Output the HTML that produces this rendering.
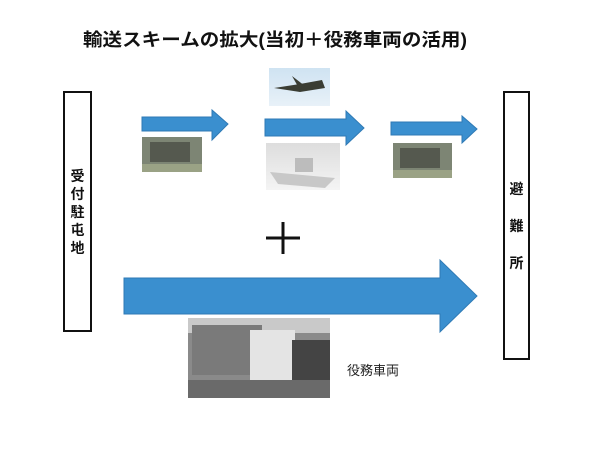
<!DOCTYPE html>
<html><head><meta charset="utf-8"><style>
body{margin:0;background:#fff;}
svg text{font-family:"Liberation Sans","Noto Sans CJK JP",sans-serif;}
</style></head><body>
<svg width="600" height="446" viewBox="0 0 600 446" xmlns="http://www.w3.org/2000/svg">
<defs>
<linearGradient id="sky" x1="0" y1="0" x2="0" y2="1"><stop offset="0" stop-color="#cfe3f2"/><stop offset="1" stop-color="#e8f1f8"/></linearGradient>
<linearGradient id="grey" x1="0" y1="0" x2="0" y2="1"><stop offset="0" stop-color="#ddd"/><stop offset="1" stop-color="#f4f4f4"/></linearGradient>
</defs>
<text x="83" y="46" font-size="18" font-weight="bold" fill="#111" textLength="384" lengthAdjust="spacingAndGlyphs">輸送スキームの拡大(当初＋役務車両の活用)</text>
<rect x="64" y="92" width="27" height="239" fill="#fff" stroke="#111" stroke-width="2"/>
<g font-size="14" font-weight="bold" fill="#111" text-anchor="middle">
<text x="77.5" y="181">受</text><text x="77.5" y="199">付</text><text x="77.5" y="217">駐</text><text x="77.5" y="235">屯</text><text x="77.5" y="253">地</text>
</g>
<rect x="504" y="92" width="25" height="267" fill="#fff" stroke="#111" stroke-width="2"/>
<g font-size="14" font-weight="bold" fill="#111" text-anchor="middle">
<text x="516.5" y="194">避</text><text x="516.5" y="231">難</text><text x="516.5" y="268">所</text>
</g>
<g fill="#3a8fcf" stroke="#2f7ab5" stroke-width="1">
<polygon points="142,117 212,117 212,110 228,124 212,140 212,131 142,131"/>
<polygon points="265,119 346,119 346,111 364,128 346,145 346,136 265,136"/>
<polygon points="391,122 462,122 462,116 477,129 462,143 462,135 391,135"/>
<polygon points="124,278 440,278 440,260 477,296 440,332 440,314 124,314"/>
</g>
<!-- truck 1 -->
<rect x="142" y="137" width="60" height="35" fill="#7d8574"/>
<rect x="150" y="142" width="40" height="20" fill="#55594f"/>
<rect x="142" y="164" width="60" height="8" fill="#9aa285"/>
<!-- plane -->
<rect x="269" y="68" width="61" height="38" fill="url(#sky)"/>
<path d="M274 88 L300 84 L322 80 L325 88 L300 92 Z" fill="#3a3d33"/>
<path d="M292 76 L305 86 L300 90 Z" fill="#3a3d33"/>
<!-- ship -->
<rect x="266" y="143" width="74" height="47" fill="url(#grey)"/>
<path d="M270 172 L335 178 L325 188 L278 184 Z" fill="#c8c8c8"/>
<rect x="295" y="158" width="18" height="14" fill="#bcbcbc"/>
<!-- truck 2 -->
<rect x="393" y="143" width="59" height="35" fill="#7d8574"/>
<rect x="400" y="148" width="40" height="20" fill="#55594f"/>
<rect x="393" y="170" width="59" height="8" fill="#9aa285"/>
<!-- big truck -->
<rect x="188" y="318" width="142" height="80" fill="#8a8a8a"/>
<rect x="188" y="318" width="142" height="15" fill="#c9c9c9"/>
<rect x="192" y="325" width="70" height="50" fill="#7a7a7a"/>
<rect x="250" y="330" width="45" height="50" fill="#e4e4e4"/>
<rect x="292" y="340" width="38" height="40" fill="#444"/>
<rect x="188" y="380" width="142" height="18" fill="#6a6a6a"/>
<text x="347" y="375" font-size="13" fill="#222">役務車両</text>
<g stroke="#111" stroke-width="3"><line x1="266" y1="238" x2="300" y2="238"/><line x1="283" y1="222" x2="283" y2="254"/></g>
</svg>
</body></html>
